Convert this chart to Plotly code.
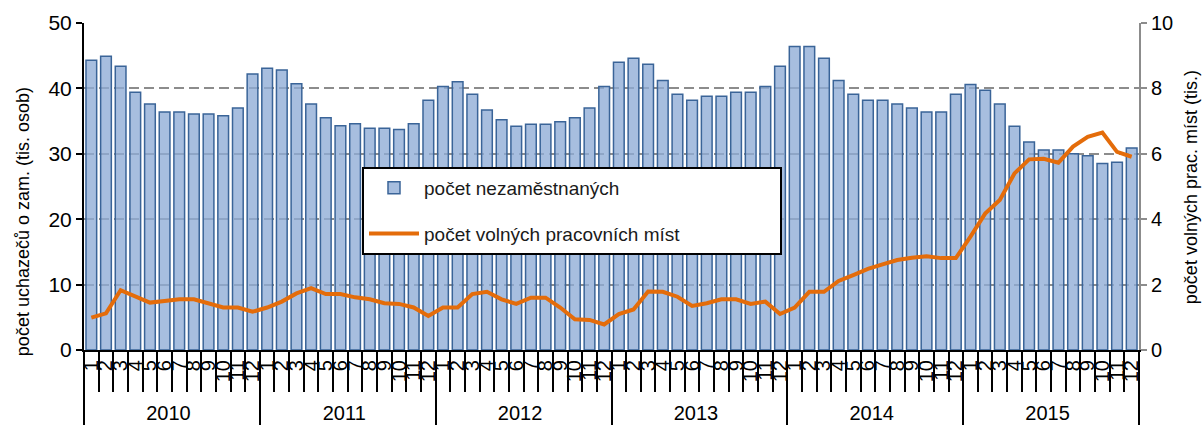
import plotly.graph_objects as go

YEARS = ["2010", "2011", "2012", "2013", "2014", "2015"]
MONTHS = [str(m) for m in range(1, 13)]

# počet uchazečů o zaměstnání (tis. osob), monthly 2010-2015
UNEMPLOYED = [
    44.3, 44.9, 43.4, 39.4, 37.6, 36.4, 36.4, 36.1, 36.1, 35.8, 37.0, 42.2,
    43.1, 42.8, 40.7, 37.6, 35.5, 34.3, 34.6, 33.9, 33.9, 33.7, 34.6, 38.2,
    40.3, 41.0, 39.1, 36.7, 35.2, 34.2, 34.5, 34.5, 34.9, 35.5, 37.0, 40.3,
    44.0, 44.6, 43.7, 41.2, 39.1, 38.2, 38.8, 38.8, 39.4, 39.4, 40.3, 43.4,
    46.4, 46.4, 44.6, 41.2, 39.1, 38.2, 38.2, 37.6, 37.0, 36.4, 36.4, 39.1,
    40.6, 39.7, 37.6, 34.2, 31.8, 30.6, 30.6, 30.0, 29.7, 28.5, 28.7, 30.9,
]

# počet volných pracovních míst (tis.)
VACANCIES = [
    0.99, 1.12, 1.83, 1.63, 1.45, 1.50, 1.55, 1.55, 1.43, 1.30, 1.30, 1.17,
    1.30, 1.48, 1.73, 1.89, 1.71, 1.71, 1.61, 1.55, 1.43, 1.41, 1.30, 1.04,
    1.30, 1.30, 1.71, 1.78, 1.55, 1.41, 1.60, 1.60, 1.30, 0.94, 0.92, 0.78,
    1.10, 1.24, 1.79, 1.78, 1.63, 1.35, 1.43, 1.55, 1.55, 1.41, 1.48, 1.10,
    1.30, 1.78, 1.78, 2.11, 2.29, 2.48, 2.62, 2.75, 2.82, 2.87, 2.81, 2.81,
    3.47, 4.17, 4.59, 5.40, 5.83, 5.85, 5.73, 6.22, 6.52, 6.65, 6.06, 5.91,
]

FONT = "Liberation Sans, Arial, sans-serif"
PAD = "\u00a0" * 18  # widens the legend box, like the original

x = [[y for y in YEARS for _ in MONTHS], [m for _ in YEARS for m in MONTHS]]

fig = go.Figure()
fig.add_trace(
    go.Bar(
        x=x,
        y=UNEMPLOYED,
        name="počet nezaměstnaných",
        # slightly translucent so the dashed grid shows faintly through the bars
        marker=dict(color="rgba(142,172,214,0.78)", line=dict(color="#3a6498", width=1.5)),
        legendgroup="a",
    )
)
fig.add_trace(
    go.Scatter(
        x=x,
        y=VACANCIES,
        name="počet volných pracovních míst" + PAD,
        mode="lines",
        line=dict(color="#e46c0a", width=4),
        yaxis="y2",
        legendgroup="b",
    )
)

fig.add_annotation(
    text="počet uchazečů o zam. (tis. osob)", textangle=-90,
    xref="paper", yref="paper", x=0, y=0.391, xshift=-61,
    xanchor="center", yanchor="middle",
    showarrow=False, font=dict(size=18, color="black"),
)
fig.add_annotation(
    text="počet volných prac. míst (tis.)", textangle=-90,
    xref="paper", yref="paper", x=1, y=0.498, xshift=52,
    xanchor="center", yanchor="middle",
    showarrow=False, font=dict(size=18, color="black"),
)

fig.update_layout(
    width=1202,
    height=425,
    margin=dict(l=84, r=63, t=23, b=75),
    paper_bgcolor="white",
    plot_bgcolor="white",
    font=dict(family=FONT, color="black"),
    bargap=0.27,
    showlegend=True,
    legend=dict(
        x=0.2635, y=0.56, xanchor="left", yanchor="top",
        bgcolor="white", bordercolor="black", borderwidth=2,
        font=dict(size=19, color="#1a1a1a"),
        itemwidth=50, tracegroupgap=18,
    ),
    xaxis=dict(
        type="multicategory",
        automargin=False,
        showline=True, linecolor="black", linewidth=2,
        ticks="outside", tickson="boundaries", ticklen=40,
        tickcolor="black", tickwidth=1.5,
        tickangle=-90, nticks=100,
        tickfont=dict(size=20, family=FONT),
        showdividers=True, dividercolor="black", dividerwidth=2,
        showgrid=False,
    ),
    yaxis=dict(
        range=[0, 50], dtick=10, automargin=False,
        showline=True, linecolor="black", linewidth=2,
        ticks="outside", ticklen=6, tickcolor="black", tickwidth=2,
        tickfont=dict(size=21),
        showgrid=True, gridcolor="#8c8c8c", griddash="10px,5px", gridwidth=1.5,
        zeroline=False,
    ),
    yaxis2=dict(
        range=[0, 10], dtick=2, overlaying="y", side="right", automargin=False,
        showline=True, linecolor="#8c8c8c", linewidth=2,
        ticks="outside", ticklen=6, tickcolor="#8c8c8c", tickwidth=2,
        tickfont=dict(size=20),
        showgrid=False, zeroline=False,
    ),
)

# the page's default 8px body margin would push the fixed-size figure off the window
fig.write_html(
    "out.html",
    config={"displayModeBar": False},
    post_script="document.body.style.margin='0';",
)
